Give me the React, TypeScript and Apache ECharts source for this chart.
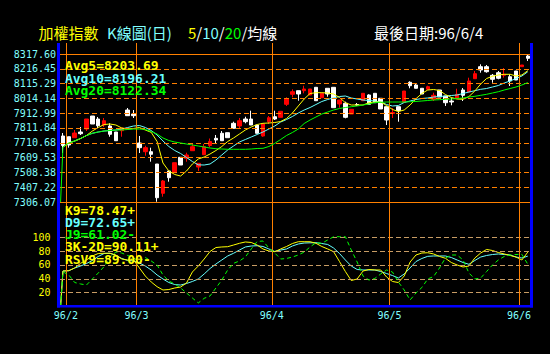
import { useEffect, useRef } from "react";
import * as echarts from "echarts";

// ---------------- data ----------------
const priceTickLabels = ["7306.07", "7407.22", "7508.38", "7609.53", "7710.68", "7811.84", "7912.99", "8014.14", "8115.29", "8216.45", "8317.60"];
const kdTickValues = [20, 40, 60, 80, 100];
const monthLabels = ["96/2", "96/3", "96/4", "96/5", "96/6"];
const monthFirstBar = [1, 13, 36, 56, 78];

// [open, close, low, high]
const candles: number[][] = [
  [7757.1, 7692.2, 7640.9, 7777.6], [7752.3, 7695.6, 7677.2, 7752.3], [7745.5, 7777.6, 7745.5, 7798.1], [7784.5, 7772.9, 7764.0, 7818.6],
  [7805.0, 7873.3, 7791.3, 7873.3], [7893.8, 7839.1, 7839.1, 7893.8], [7873.3, 7827.5, 7811.8, 7887.0], [7832.3, 7861.7, 7818.6, 7880.2],
  [7825.5, 7768.8, 7752.3, 7843.9], [7784.5, 7725.0, 7725.0, 7784.5], [7793.4, 7811.8, 7752.3, 7811.8], [7934.8, 7895.9, 7895.9, 7948.5],
  [7907.5, 7895.9, 7880.2, 7934.8], [7709.3, 7677.2, 7640.9, 7757.1], [7649.8, 7677.2, 7622.5, 7690.8], [7649.8, 7632.1, 7581.5, 7677.2],
  [7565.7, 7335.4, 7308.1, 7565.7], [7365.5, 7449.6, 7342.2, 7456.4], [7517.9, 7472.1, 7444.8, 7517.9], [7506.3, 7574.6, 7506.3, 7574.6],
  [7611.5, 7558.9, 7558.9, 7611.5], [7604.7, 7627.3, 7581.5, 7643.0], [7656.7, 7684.0, 7656.7, 7702.4], [7545.2, 7570.5, 7517.9, 7570.5],
  [7629.3, 7684.0, 7627.3, 7702.4], [7692.2, 7719.5, 7679.9, 7740.0], [7741.4, 7729.8, 7702.4, 7764.0], [7775.6, 7725.0, 7725.0, 7791.3],
  [7779.7, 7745.5, 7745.5, 7779.7], [7843.9, 7809.8, 7809.8, 7854.9], [7825.5, 7861.7, 7805.0, 7880.2], [7873.3, 7854.9, 7843.9, 7889.0],
  [7873.3, 7832.3, 7832.3, 7930.1], [7832.3, 7775.6, 7775.6, 7832.3], [7757.1, 7839.1, 7752.3, 7839.1], [7854.9, 7882.2, 7839.1, 7893.8],
  [7889.0, 7873.3, 7866.5, 7930.1], [7884.9, 7926.0, 7884.9, 7926.0], [7973.8, 8010.0, 7962.2, 8021.6], [8042.1, 8059.9, 8021.6, 8076.3],
  [8066.8, 8044.2, 7998.4, 8066.8], [8066.8, 8078.4, 8049.0, 8100.9], [8037.4, 8078.4, 8037.4, 8078.4], [8090.0, 7998.4, 7998.4, 8090.0],
  [8018.9, 8049.0, 8018.9, 8049.0], [8083.2, 8044.2, 8025.7, 8083.2], [8090.0, 7950.6, 7950.6, 8090.0], [7975.8, 8003.2, 7950.6, 8003.2],
  [7980.6, 7884.9, 7878.1, 7991.6], [7907.5, 7939.6, 7907.5, 7939.6], [7972.4, 7969.0, 7962.2, 7982.7], [7998.4, 8049.0, 7998.4, 8049.0],
  [8037.4, 7973.8, 7973.8, 8042.1], [8049.0, 7984.7, 7984.7, 8049.0], [8014.8, 7941.7, 7941.7, 8014.8], [7957.4, 7866.5, 7832.3, 7957.4],
  [7910.9, 7917.8, 7880.2, 7948.5], [7957.4, 7930.1, 7854.9, 7957.4], [7987.5, 8064.7, 7984.7, 8064.7], [8124.2, 8100.9, 8083.2, 8131.0],
  [8105.7, 8083.2, 8083.2, 8112.5], [8083.2, 8044.2, 8044.2, 8083.2], [8076.3, 8094.1, 8071.5, 8100.9], [8008.0, 8035.3, 7996.4, 8053.1],
  [8071.5, 8023.7, 8023.7, 8071.5], [8030.5, 7984.7, 7962.2, 8030.5], [7996.4, 7989.5, 7967.0, 8018.9], [8012.1, 8042.1, 8012.1, 8080.4],
  [8071.5, 8035.3, 7996.4, 8085.2], [8057.9, 8133.1, 8057.9, 8155.6], [8148.8, 8183.0, 8148.8, 8201.4], [8230.8, 8208.2, 8189.8, 8247.2],
  [8230.8, 8196.6, 8189.8, 8242.4], [8172.0, 8144.7, 8121.4, 8180.9], [8189.8, 8151.5, 8144.7, 8201.4], [8172.0, 8178.8, 8155.6, 8221.9],
  [8162.4, 8133.1, 8098.9, 8178.8], [8201.4, 8139.9, 8139.9, 8201.4], [8230.8, 8242.4, 8230.8, 8242.4], [8303.9, 8288.2, 8269.8, 8315.5],
];

const ma5 = [
  7681.9, 7709.3, 7723.0, 7740.0, 7760.5, 7791.3, 7815.2, 7835.7, 7839.1, 7832.3,
  7811.8, 7805.0, 7808.4, 7815.2, 7798.1, 7782.4, 7719.5, 7572.6, 7517.9, 7494.0,
  7483.7, 7517.9, 7565.7, 7599.9, 7613.6, 7634.1, 7658.0, 7685.4, 7719.5, 7743.5,
  7770.8, 7798.1, 7818.6, 7835.7, 7843.9, 7846.0, 7849.4, 7856.2, 7876.7, 7914.3,
  7962.2, 8010.0, 8047.6, 8053.1, 8053.1, 8051.0, 8044.2, 8020.3, 7984.7, 7969.0,
  7969.0, 7969.0, 7984.7, 7989.5, 7989.5, 7965.6, 7938.3, 7924.6, 7934.8, 7969.0,
  8012.1, 8047.6, 8071.5, 8075.0, 8068.1, 8040.8, 8020.3, 8010.0, 8008.0, 8027.1,
  8064.7, 8112.5, 8150.1, 8165.2, 8174.1, 8178.8, 8178.8, 8167.2, 8174.1, 8203.69,
];
const ma10 = [
  7681.9, 7709.3, 7723.0, 7740.0, 7760.5, 7775.6, 7784.5, 7791.3, 7794.7, 7798.1,
  7805.0, 7815.2, 7825.5, 7828.9, 7815.2, 7794.7, 7764.0, 7723.0, 7685.4, 7658.0,
  7637.5, 7610.2, 7582.8, 7560.0, 7558.9, 7565.7, 7593.1, 7627.3, 7661.4, 7688.8,
  7716.1, 7733.2, 7750.3, 7767.4, 7784.5, 7805.0, 7825.5, 7852.8, 7869.9, 7890.4,
  7914.3, 7934.8, 7951.9, 7972.4, 7992.9, 8006.6, 8018.2, 8027.1, 8030.5, 8016.9,
  8010.0, 8003.2, 7999.8, 7996.4, 7989.5, 7972.4, 7962.2, 7965.6, 7986.1, 7996.4,
  8006.6, 8013.4, 8016.9, 8023.7, 8027.1, 8030.5, 8033.9, 8037.4, 8047.6, 8057.9,
  8066.8, 8076.3, 8081.8, 8092.0, 8102.3, 8119.4, 8133.1, 8150.1, 8167.2, 8196.21,
];
const ma20 = [
  7681.9, 7709.3, 7723.0, 7740.0, 7760.5, 7775.6, 7784.5, 7791.3, 7794.7, 7798.1,
  7798.1, 7801.6, 7805.0, 7805.0, 7801.6, 7787.9, 7770.8, 7743.5, 7726.4, 7716.1,
  7709.3, 7702.4, 7695.6, 7688.8, 7681.9, 7675.1, 7670.3, 7668.3, 7666.2, 7666.2,
  7666.2, 7666.2, 7668.3, 7671.7, 7673.1, 7685.4, 7707.2, 7733.2, 7760.5, 7781.1,
  7805.0, 7842.6, 7866.5, 7887.0, 7907.5, 7921.2, 7934.8, 7945.1, 7951.9, 7957.4,
  7962.2, 7969.0, 7975.8, 7986.1, 7987.5, 7989.5, 7989.5, 7989.5, 7989.5, 7991.6,
  7992.9, 7996.4, 7999.8, 8003.2, 8005.2, 8008.0, 8010.0, 8013.4, 8016.9, 8023.7,
  8028.5, 8035.3, 8042.1, 8051.0, 8059.9, 8071.5, 8081.8, 8092.0, 8105.7, 8122.34,
];

const k9 = [
  51.2, 51.7, 55.6, 62.3, 67.1, 72.9, 76.5, 76.8, 76.8, 74.3,
  68.5, 67.1, 67.1, 55.6, 44.0, 35.4, 28.6, 23.8, 24.5, 26.7,
  28.1, 33.9, 49.8, 58.4, 68.5, 79.4, 85.1, 85.9, 86.3, 88.7,
  91.2, 93.1, 92.4, 88.7, 83.0, 80.1, 79.1, 83.0, 86.6, 90.9,
  93.5, 93.5, 93.5, 91.2, 86.6, 83.0, 79.1, 64.9, 50.5, 37.5,
  39.7, 51.2, 53.4, 52.7, 52.7, 42.6, 36.1, 34.6, 44.0, 64.2,
  74.3, 77.2, 77.6, 75.8, 72.2, 69.6, 63.5, 59.9, 57.0, 58.4,
  70.0, 77.2, 82.3, 80.8, 77.9, 75.8, 73.6, 71.4, 67.1, 78.47,
];
const d9 = [
  51.2, 51.7, 55.6, 58.4, 62.0, 66.4, 72.2, 76.5, 76.8, 73.6,
  69.3, 66.4, 65.7, 62.8, 58.4, 52.7, 45.5, 39.7, 34.6, 31.7,
  31.0, 33.2, 36.1, 39.7, 46.9, 54.8, 61.3, 67.1, 72.9, 76.8,
  81.5, 85.9, 87.3, 87.7, 86.6, 83.0, 79.4, 81.5, 83.0, 87.3,
  90.2, 91.6, 91.9, 92.1, 90.9, 89.5, 84.4, 76.5, 67.1, 58.4,
  53.4, 52.7, 52.7, 52.7, 50.5, 47.6, 44.7, 41.1, 46.9, 55.6,
  64.9, 69.3, 72.4, 72.9, 72.9, 72.9, 70.7, 67.1, 63.5, 60.9,
  66.4, 71.4, 73.6, 75.0, 75.8, 75.0, 74.3, 71.4, 70.0, 72.65,
];
const j9 = [
  50.0, 45.5, 34.6, 32.5, 31.0, 39.7, 48.3, 57.7, 71.4, 78.6,
  77.2, 73.6, 70.0, 64.6, 70.7, 65.7, 59.9, 45.5, 36.8, 32.5,
  26.7, 19.5, 12.3, 5.1, 11.8, 15.2, 26.7, 38.2, 52.7, 62.3,
  65.7, 71.4, 83.0, 93.8, 94.5, 84.4, 77.2, 68.5, 69.3, 71.4,
  74.3, 78.6, 85.9, 92.1, 91.2, 96.0, 100.7, 100.7, 100.7, 81.5,
  64.2, 44.0, 38.2, 40.4, 46.9, 52.7, 49.8, 35.4, 23.8, 9.4,
  19.5, 27.4, 39.7, 43.3, 55.6, 70.0, 74.3, 74.3, 67.1, 48.3,
  39.7, 41.1, 50.5, 59.9, 67.1, 72.2, 74.3, 75.0, 75.3, 61.02,
];

const titleIndex = "加權指數";
const titleChart = "K線圖(日)";
const titleAvgRich = "{y|5}{w|/}{c|10}{w|/}{g|20}{w|/均線}";
const titleLastDate = "最後日期:96/6/4";
const avgLabels = ["Avg5=8203.69", "Avg10=8196.21", "Avg20=8122.34"];
const kdLabels = ["K9=78.47+", "D9=72.65+", "J9=61.02-", "3K-2D=90.11+", "RSV9=89.00-"];

// ---------------- styles / layout ----------------
const YELLOW = "#ffff00";
const CYAN = "#66ffff";
const LABEL_CYAN = "#80ffff";
const GREEN = "#00ff00";
const ORANGE = "#ff8000";
const BLUE = "#0000ff";
const RED = "#ff0000";
const WHITE = "#ffffff";
const TAN = "#c89c64";
const MONO = '"DejaVu Sans Mono", monospace';
const CJK = '"Noto Sans CJK TC", "Noto Sans CJK SC", sans-serif';

const PLOT_LEFT = 60.0;
const PLOT_WIDTH = 470.72;
const MAIN_TOP = 43;
const MAIN_HEIGHT = 159;
const TOP_LINE_Y = 54;
const KD_TOP = 202;
const KD_HEIGHT = 104.5;
const KD_100_PX = 69.3;

export default function App() {
  const ref = useRef<HTMLDivElement>(null);

  useEffect(() => {
    const el = ref.current;
    if (!el) return;
    document.body.style.margin = "0";
    document.body.style.background = "#000";
    const chart = echarts.init(el, null, { renderer: "svg" });

    const priceTicks = priceTickLabels.map(Number);
    const pMin = priceTicks[0];
    const pTop = priceTicks[priceTicks.length - 1];
    const pMax = pMin + ((pTop - pMin) * MAIN_HEIGHT) / (MAIN_TOP + MAIN_HEIGHT - TOP_LINE_Y);
    const kdMax = (100 * KD_HEIGHT) / KD_100_PX;
    const n = candles.length;
    const xy = (arr: number[]) => arr.map((v, i) => [i, v]);
    const monthLines = monthLabels.map((name, i) => ({ xAxis: monthFirstBar[i] - 0.5, name }));

    const verticalMarkLine = (showLabel: boolean) => ({
      silent: true,
      symbol: ["none", "none"],
      animation: false,
      lineStyle: { color: ORANGE, width: 1, type: "solid", opacity: 1 },
      label: showLabel
        ? { show: true, position: "start", formatter: "{b}", color: LABEL_CYAN, fontFamily: MONO, fontSize: 10, distance: 4 }
        : { show: false },
      emphasis: { disabled: true },
      data: monthLines,
    });

    const line = (name: string, data: number[][], color: string, xAxisIndex: number, yAxisIndex: number, z: number, extra: any = {}) => ({
      type: "line",
      name,
      data,
      xAxisIndex,
      yAxisIndex,
      symbol: "none",
      showSymbol: false,
      silent: true,
      z,
      lineStyle: { color, width: 1, ...(extra.lineStyle || {}) },
      itemStyle: { color },
      emphasis: { disabled: true },
      ...(extra.markLine ? { markLine: extra.markLine } : {}),
    });

    const textEl = (text: string, x: number, y: number, fill: string, font: string, scaleX = 1) => ({
      type: "text",
      x,
      y,
      scaleX,
      z: 110,
      silent: true,
      style: { text, fill, font, verticalAlign: "middle", align: "left" },
    });

    const boldFont = `bold 12px ${MONO}`;
    const kdColors = [YELLOW, CYAN, GREEN, YELLOW, YELLOW];
    const avgColors = [YELLOW, CYAN, GREEN];

    const option: any = {
      animation: false,
      backgroundColor: "#000000",
      grid: [
        { left: PLOT_LEFT, top: MAIN_TOP, width: PLOT_WIDTH, height: MAIN_HEIGHT, containLabel: false, outerBoundsMode: "none" },
        { left: PLOT_LEFT, top: KD_TOP, width: PLOT_WIDTH, height: KD_HEIGHT, containLabel: false, outerBoundsMode: "none" },
      ],
      xAxis: [
        {
          type: "category",
          gridIndex: 0,
          position: "bottom",
          data: candles.map((_, i) => String(i)),
          boundaryGap: true,
          axisLine: { show: true, onZero: false, lineStyle: { color: ORANGE, width: 1 } },
          axisTick: { show: false },
          axisLabel: { show: false },
          splitLine: { show: false },
        },
        { type: "value", gridIndex: 0, position: "top", min: -0.5, max: n - 0.5, show: false },
        { type: "value", gridIndex: 1, position: "bottom", min: -0.5, max: n - 0.5, show: false },
      ],
      yAxis: [
        { type: "value", gridIndex: 0, min: pMin, max: pMax, show: false },
        { type: "value", gridIndex: 1, min: 0, max: kdMax, show: false },
      ],
      series: [
        {
          type: "candlestick",
          xAxisIndex: 0,
          yAxisIndex: 0,
          data: candles,
          barWidth: 4,
          silent: true,
          z: 2,
          itemStyle: { color: RED, color0: WHITE, borderColor: RED, borderColor0: WHITE, borderWidth: 1 },
          emphasis: { disabled: true },
          markLine: {
            silent: true,
            symbol: ["none", "none"],
            animation: false,
            lineStyle: { color: ORANGE, width: 1, type: [5, 3] },
            label: { show: true, position: "start", formatter: "{b}", color: LABEL_CYAN, fontFamily: MONO, fontSize: 10, distance: 4 },
            emphasis: { disabled: true },
            data: priceTickLabels.map((name, i) => {
              const item: any = { yAxis: priceTicks[i], name };
              if (i === 0) item.lineStyle = { color: "rgba(0,0,0,0)" };
              if (i === priceTicks.length - 1) item.lineStyle = { type: "solid" };
              return item;
            }),
          },
        },
        line("MA10", xy(ma10), CYAN, 1, 0, 3),
        line("MA5", xy(ma5), YELLOW, 1, 0, 4),
        line("MA20", [[-0.4, pMin], ...xy(ma20)], GREEN, 1, 0, 5, { markLine: verticalMarkLine(false) }),
        line("D9", [[-0.4, 0], ...xy(d9)], CYAN, 2, 1, 3, {
          markLine: {
            silent: true,
            symbol: ["none", "none"],
            animation: false,
            lineStyle: { color: TAN, width: 1, type: [5, 3] },
            label: { show: true, position: "start", formatter: "{b}", color: YELLOW, fontFamily: MONO, fontSize: 10, distance: 9.5 },
            emphasis: { disabled: true },
            data: kdTickValues.map((v) => ({ yAxis: v, name: String(v) })),
          },
        }),
        line("K9", [[-0.4, 0], ...xy(k9)], YELLOW, 2, 1, 4, { markLine: verticalMarkLine(true) }),
        line("J9", [[-0.4, 0], ...xy(j9)], GREEN, 2, 1, 5, { lineStyle: { type: [4, 3] } }),
      ],
      graphic: {
        elements: [
          { type: "rect", z: 100, silent: true, shape: { x: 57, y: 43, width: 3, height: 264.5 }, style: { fill: BLUE } },
          { type: "rect", z: 100, silent: true, shape: { x: 530, y: 43, width: 3, height: 264.5 }, style: { fill: BLUE } },
          { type: "rect", z: 100, silent: true, shape: { x: 57, y: 305, width: 476, height: 2.5 }, style: { fill: BLUE } },
          textEl(titleIndex, 38.5, 32, YELLOW, `15px ${CJK}`),
          textEl(titleChart, 107, 32, LABEL_CYAN, `15px ${CJK}`),
          {
            type: "text",
            x: 188,
            y: 32,
            z: 110,
            silent: true,
            style: {
              text: titleAvgRich,
              font: `15px ${CJK}`,
              verticalAlign: "middle",
              align: "left",
              rich: {
                y: { fill: YELLOW, fontSize: 15, fontFamily: CJK },
                c: { fill: LABEL_CYAN, fontSize: 15, fontFamily: CJK },
                g: { fill: GREEN, fontSize: 15, fontFamily: CJK },
                w: { fill: WHITE, fontSize: 15, fontFamily: CJK },
              },
            },
          },
          textEl(titleLastDate, 374, 32, WHITE, `15px ${CJK}`),
          ...avgLabels.map((t, i) => textEl(t, 65, 66 + i * 12.3, avgColors[i], boldFont, 1.08)),
          ...kdLabels.map((t, i) => textEl(t, 65, 210.5 + i * 12.2, kdColors[i], boldFont, 1.08)),
        ],
      },
    };

    chart.setOption(option);
    return () => {
      chart.dispose();
    };
  }, []);

  return <div ref={ref} style={{ position: "fixed", left: 0, top: 0, width: 550, height: 354, background: "#000" }} />;
}
